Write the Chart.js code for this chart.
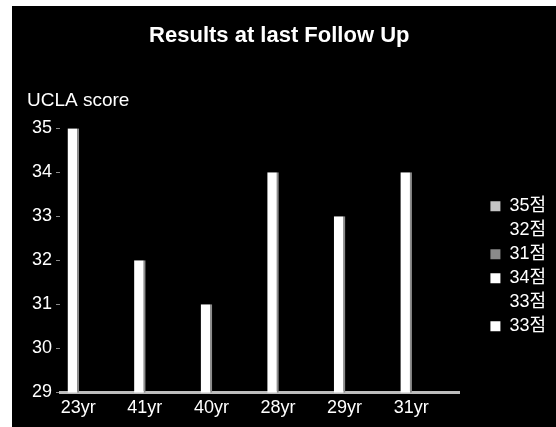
<!DOCTYPE html>
<html>
<head>
<meta charset="utf-8">
<script src="https://cdn.jsdelivr.net/npm/chart.js@4/dist/chart.umd.min.js"></script>
<style>
  html, body { margin: 0; padding: 0; background: #fff; }
  #box { position: absolute; left: 12px; top: 6px; width: 544px; height: 421px; background: #000; }
</style>
</head>
<body>
<div id="box"><canvas id="scoreChart"></canvas></div>
<script>
// values
const ages = ['23yr', '41yr', '40yr', '28yr', '29yr', '31yr'];
const uclaScores = [35, 32, 31, 34, 33, 34];
const yTicks = [29, 30, 31, 32, 33, 34, 35];
const legendTexts = ['35점', '32점', '31점', '34점', '33점', '33점'];
const legendColors = ['#c4c4c4', '#000000', '#8a8a8a', '#ffffff', '#000000', '#ffffff'];

const fontFamily = '"Liberation Sans", Arial, "Noto Sans CJK KR", sans-serif';

document.addEventListener("DOMContentLoaded", function() {
    const ctx = document.getElementById('scoreChart').getContext('2d');
    new Chart(ctx, {
        type: 'bar',
        data: {
            labels: ages,
            datasets: [{
                label: 'UCLA score',
                data: uclaScores,
                backgroundColor: '#ffffff',
                borderColor: '#8c8c8c',
                borderWidth: { top: 0, right: 2, bottom: 0, left: 0 },
                categoryPercentage: 1.2,
                barPercentage: 0.29
            }, {
                // empty back row of the 3D chart, keeps bars left of the slot centre
                label: '',
                data: ages.map(() => null),
                categoryPercentage: 1.2,
                barPercentage: 0.29
            }]
        },
        options: {
            responsive: true,
            maintainAspectRatio: false,
            animation: false,
            layout: { padding: { left: 15, right: 0, top: 0, bottom: 3 } },
            plugins: {
                title: {
                    display: true,
                    // trailing spaces nudge the centred title a bit left, as in the scan
                    text: 'Results at last Follow Up\u00a0\u00a0\u00a0\u00a0',
                    color: '#ffffff',
                    font: { family: fontFamily, size: 22, weight: 'bold' },
                    padding: { top: 17, bottom: 0 }
                },
                subtitle: {
                    display: true,
                    text: 'UCLA score',
                    align: 'start',
                    color: '#ffffff',
                    font: { family: fontFamily, size: 19 },
                    padding: { top: 40, bottom: 16 }
                },
                legend: {
                    position: 'right',
                    fullSize: false,
                    title: {
                        // empty title only pushes the items down a little
                        display: true,
                        text: '',
                        font: { size: 5 },
                        padding: 3
                    },
                    labels: {
                        color: '#ffffff',
                        font: { family: fontFamily, size: 18 },
                        boxWidth: 10,
                        boxHeight: 10,
                        padding: 6,
                        generateLabels: function() {
                            return legendTexts.map((t, i) => ({
                                text: t,
                                fillStyle: legendColors[i],
                                strokeStyle: legendColors[i],
                                lineWidth: 0,
                                fontColor: '#ffffff',
                                hidden: false,
                                index: i
                            }));
                        }
                    },
                    onClick: null
                },
                tooltip: { enabled: false }
            },
            scales: {
                x: {
                    grid: { display: false, drawTicks: false },
                    border: { display: true, color: '#bdbdbd', width: 3 },
                    ticks: {
                        color: '#ffffff',
                        font: { family: fontFamily, size: 18 },
                        padding: 5,
                        labelOffset: -15,
                        autoSkip: false,
                        maxRotation: 0
                    }
                },
                y: {
                    min: yTicks[0],
                    max: yTicks[yTicks.length - 1],
                    afterFit: function(scale) { scale.width = 33; },
                    grid: { drawOnChartArea: false, drawTicks: true, tickLength: 4, color: '#8a8a8a' },
                    border: { display: false },
                    ticks: {
                        stepSize: 1,
                        color: '#ffffff',
                        font: { family: fontFamily, size: 18 },
                        padding: 4
                    }
                },
                gap: {
                    // spacer between plot and legend
                    position: 'right',
                    display: true,
                    grid: { display: false, drawTicks: false },
                    border: { display: false },
                    ticks: { display: false },
                    afterFit: function(scale) { scale.width = 25; }
                }
            }
        }
    });
});
</script>
</body>
</html>
